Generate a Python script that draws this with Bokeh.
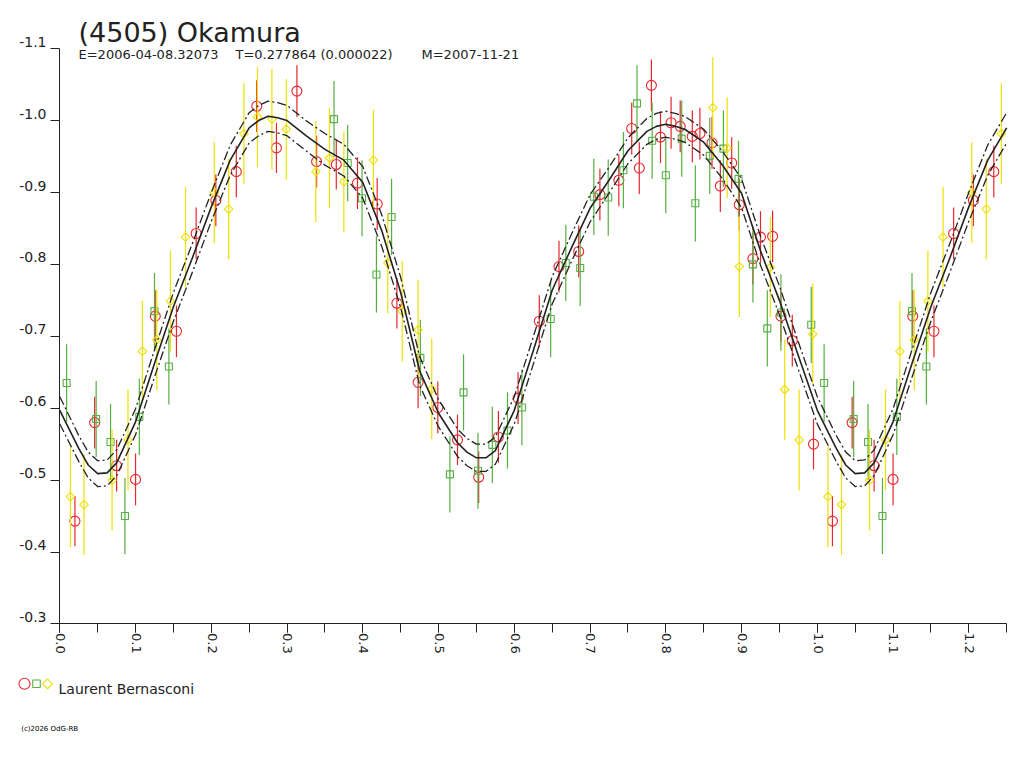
import math
from bokeh.plotting import figure
from bokeh.models import Range1d, LinearAxis, FixedTicker, SingleIntervalTicker
from bokeh.core.properties import value
from bokeh.embed import file_html
from bokeh.resources import INLINE

# ---------------- texts ----------------
TITLE = "(4505) Okamura"
SUB_E = "E=2006-04-08.32073"
SUB_T = "T=0.277864 (0.000022)"
SUB_M = "M=2007-11-21"
OBSERVER = "Laurent Bernasconi"
FOOTER = "(c)2026 OdG-RB"

y_ticks = [-1.1, -1.0, -0.9, -0.8, -0.7, -0.6, -0.5, -0.4, -0.3]
y_tick_labels = ["-1.1", "-1.0", "-0.9", "-0.8", "-0.7", "-0.6", "-0.5", "-0.4", "-0.3"]
x_ticks = [0.0, 0.1, 0.2, 0.3, 0.4, 0.5, 0.6, 0.7, 0.8, 0.9, 1.0, 1.1, 1.2]
x_tick_labels = ["0.0", "0.1", "0.2", "0.3", "0.4", "0.5", "0.6", "0.7", "0.8", "0.9", "1.0", "1.1", "1.2"]

# ---------------- data (phase, reduced magnitude, error) ----------------
red_phase = [0.020, 0.046, 0.075, 0.100, 0.126, 0.154, 0.180, 0.206, 0.233, 0.260,
             0.286, 0.313, 0.339, 0.365, 0.393, 0.419, 0.445, 0.473, 0.499, 0.525,
             0.553, 0.579, 0.605, 0.633, 0.659, 0.685, 0.713, 0.738, 0.755, 0.765,
             0.781, 0.793, 0.807, 0.819, 0.835, 0.845, 0.861, 0.872, 0.887, 0.897,
             0.915, 0.925, 0.941, 0.952, 0.967, 0.995]
red_mag = [-0.443, -0.580, -0.520, -0.501, -0.728, -0.707, -0.843, -0.889, -0.929, -1.020,
           -0.962, -1.041, -0.943, -0.939, -0.913, -0.884, -0.746, -0.636, -0.601, -0.556,
           -0.504, -0.560, -0.614, -0.721, -0.797, -0.818, -0.897, -0.917, -0.989, -0.934,
           -1.049, -0.977, -0.997, -0.992, -0.978, -0.982, -0.969, -0.909, -0.941, -0.883,
           -0.808, -0.838, -0.839, -0.728, -0.694, -0.550]
red_err = [0.035, 0.036, 0.036, 0.036, 0.036, 0.036, 0.036, 0.036, 0.036, 0.036,
           0.035, 0.036, 0.036, 0.035, 0.036, 0.036, 0.035, 0.036, 0.036, 0.035,
           0.036, 0.036, 0.036, 0.036, 0.036, 0.036, 0.036, 0.036, 0.036, 0.036,
           0.036, 0.036, 0.036, 0.036, 0.036, 0.036, 0.036, 0.036, 0.036, 0.036,
           0.036, 0.036, 0.036, 0.036, 0.036, 0.035]

green_phase = [0.009, 0.048, 0.067, 0.086, 0.105, 0.125, 0.144, 0.362, 0.380, 0.399,
               0.418, 0.438, 0.476, 0.515, 0.533, 0.552, 0.571, 0.591, 0.610, 0.648,
               0.668, 0.687, 0.705, 0.724, 0.744, 0.762, 0.782, 0.800, 0.821, 0.839,
               0.858, 0.876, 0.896, 0.915, 0.934, 0.952, 0.992]
green_mag = [-0.635, -0.585, -0.553, -0.450, -0.588, -0.735, -0.658, -1.002, -0.941, -0.892,
             -0.786, -0.866, -0.670, -0.508, -0.622, -0.513, -0.549, -0.569, -0.601, -0.724,
             -0.802, -0.795, -0.894, -0.893, -0.931, -1.024, -0.972, -0.924, -0.975, -0.885,
             -0.951, -0.961, -0.919, -0.800, -0.711, -0.733, -0.716]
green_err = [0.054, 0.053, 0.053, 0.053, 0.053, 0.053, 0.053, 0.053, 0.053, 0.053,
             0.053, 0.053, 0.053, 0.053, 0.053, 0.053, 0.053, 0.053, 0.053, 0.053,
             0.053, 0.053, 0.053, 0.053, 0.053, 0.053, 0.053, 0.053, 0.053, 0.053,
             0.053, 0.053, 0.053, 0.053, 0.053, 0.053, 0.053]

yellow_phase = [0.014, 0.032, 0.069, 0.090, 0.109, 0.128, 0.146, 0.166, 0.204, 0.223,
                0.243, 0.261, 0.280, 0.299, 0.338, 0.356, 0.375, 0.414, 0.433, 0.452,
                0.473, 0.491, 0.862, 0.881, 0.897, 0.938, 0.957, 0.976, 0.994]
yellow_mag = [-0.477, -0.466, -0.500, -0.556, -0.679, -0.695, -0.749, -0.838, -0.900, -0.877,
              -0.982, -1.005, -1.002, -0.988, -0.929, -0.948, -0.915, -0.945, -0.802, -0.735,
              -0.709, -0.627, -1.018, -0.962, -0.797, -0.796, -0.626, -0.556, -0.703]
yellow_err = [0.070, 0.070, 0.070, 0.070, 0.070, 0.070, 0.070, 0.070, 0.070, 0.070,
              0.070, 0.070, 0.070, 0.070, 0.070, 0.070, 0.070, 0.070, 0.070, 0.070,
              0.070, 0.070, 0.070, 0.070, 0.070, 0.070, 0.070, 0.070, 0.070]

# Fourier fit (phase 0 .. 0.975) and its 1-sigma half width
fit_phase = [0.000, 0.025, 0.0375, 0.050, 0.0625, 0.075, 0.100, 0.125, 0.150, 0.175,
             0.200, 0.225, 0.250, 0.2625, 0.275, 0.2875, 0.300, 0.325, 0.350, 0.375,
             0.400, 0.425, 0.450, 0.475, 0.500, 0.525, 0.5375, 0.550, 0.5625, 0.575,
             0.600, 0.625, 0.650, 0.675, 0.700, 0.725, 0.750, 0.775, 0.7875, 0.800,
             0.8125, 0.825, 0.850, 0.875, 0.900, 0.925, 0.950, 0.975]
fit_mag = [-0.597, -0.544, -0.521, -0.509, -0.510, -0.524, -0.581, -0.662, -0.741, -0.809,
           -0.880, -0.945, -0.990, -1.000, -1.006, -1.004, -1.000, -0.979, -0.960, -0.945,
           -0.914, -0.847, -0.761, -0.652, -0.593, -0.552, -0.539, -0.531, -0.531, -0.541,
           -0.597, -0.680, -0.764, -0.822, -0.878, -0.917, -0.958, -0.985, -0.992, -0.995,
           -0.992, -0.988, -0.970, -0.938, -0.899, -0.819, -0.750, -0.673]
fit_sigma = [0.019, 0.018, 0.018, 0.018, 0.018, 0.018, 0.018, 0.019, 0.020, 0.020,
             0.020, 0.021, 0.021, 0.021, 0.021, 0.021, 0.021, 0.021, 0.022, 0.022,
             0.022, 0.022, 0.021, 0.020, 0.019, 0.019, 0.019, 0.019, 0.019, 0.019,
             0.019, 0.019, 0.019, 0.019, 0.019, 0.018, 0.018, 0.018, 0.018, 0.018,
             0.018, 0.018, 0.018, 0.019, 0.020, 0.020, 0.020, 0.019]

# ---------------- layout / style ----------------
W, H = 1016, 752
X0_PX, SX = 59.3, 757.5      # page x of phase 0, pixels per phase unit
Y0_PX, SY = 48.2, 719.0      # page y of the top of the magnitude axis, pixels per mag
MAG_TOP, MAG_BOTTOM = -1.1, -0.3
PHASE_MAX = 1.25

FONT = "DejaVu Sans"
INK = "#222222"
RED = "#e8262d"
GREEN = "#54b040"
YELLOW = "#f0e000"


def ph_at(px):
    return (px - X0_PX) / SX


def mag_at(py):
    return MAG_TOP + (py - Y0_PX) / SY


def wrap(phase, *cols):
    """Repeat the start of the phase curve after phase 1 (as the reference does)."""
    ph = list(phase)
    out = [list(c) for c in cols]
    for i, f in enumerate(phase):
        if f + 1.0 <= PHASE_MAX + 1e-9:
            ph.append(round(f + 1.0, 4))
            for o, c in zip(out, cols):
                o.append(c[i])
    return ph, out


p = figure(width=W, height=H, output_backend="svg", toolbar_location=None, title=None,
           x_range=Range1d(ph_at(0), ph_at(W)), y_range=Range1d(mag_at(H), mag_at(0)),
           x_axis_type=None, y_axis_type=None, min_border=0,
           background_fill_color="white", border_fill_color="white")
p.outline_line_color = None

xaxis = LinearAxis(fixed_location=MAG_BOTTOM, bounds=(0, PHASE_MAX + 1e-6),
                   ticker=SingleIntervalTicker(interval=0.1, num_minor_ticks=2),
                   axis_line_color=INK, major_tick_line_color=INK, minor_tick_line_color=INK,
                   major_tick_in=0, major_tick_out=9, minor_tick_in=0, minor_tick_out=9,
                   major_label_text_color=None)
p.add_layout(xaxis, "below")
yaxis = LinearAxis(fixed_location=0, bounds=(MAG_TOP, MAG_BOTTOM),
                   ticker=FixedTicker(ticks=y_ticks),
                   axis_line_color=INK, major_tick_line_color=INK, minor_tick_line_color=None,
                   major_tick_in=0, major_tick_out=9, major_label_text_color=None)
p.add_layout(yaxis, "left")

# data: error bars + markers
series = [
    (red_phase, red_mag, red_err, RED, dict(marker="circle", size=10)),
    (green_phase, green_mag, green_err, GREEN, dict(marker="square", size=7)),
    (yellow_phase, yellow_mag, yellow_err, YELLOW, dict(marker="square", size=6, angle=math.pi / 4)),
]
for ph0, m0, e0, col, mk in series:
    ph, (m, e) = wrap(ph0, m0, e0)
    p.segment(x0=ph, y0=[a - b for a, b in zip(m, e)], x1=ph, y1=[a + b for a, b in zip(m, e)],
              line_color=col, line_width=1.2)
    p.scatter(ph, m, fill_color=None, line_color=col, line_width=1.1, **mk)

# fit curve and its band
fph, (fm, fs) = wrap(fit_phase, fit_mag, fit_sigma)
p.line(fph, [a - b for a, b in zip(fm, fs)], line_color=INK, line_width=1.3,
       line_dash="9 3 2 3", line_join="round")
p.line(fph, [a + b for a, b in zip(fm, fs)], line_color=INK, line_width=1.3,
       line_dash="9 3 2 3", line_join="round")
p.line(fph, fm, line_color=INK, line_width=1.6, line_join="round")


def txt(x, y, s, size, align="left", baseline="alphabetic", color=INK, angle=0.0, style="normal"):
    p.text(x=x, y=y, text=s, text_font=value(FONT), text_font_size=value(size),
           text_align=align, text_baseline=baseline, text_color=color, angle=angle,
           text_font_style=style)


# tick labels
txt([ph_at(46)] * len(y_ticks), [t - 7 / SY for t in y_ticks], y_tick_labels, "14px",
    align="right", baseline="middle")
txt([t + 0.8 / SX for t in x_ticks], [mag_at(632.5)] * len(x_ticks), x_tick_labels, "13px",
    angle=-math.pi / 2)

# title block
txt([ph_at(78)], [mag_at(31.5)], [TITLE], "27px")
txt([ph_at(78), ph_at(235), ph_at(421)], [mag_at(54)] * 3, [SUB_E, SUB_T, SUB_M], "13px")

# legend
p.scatter([ph_at(24)], [mag_at(683.3)], marker="circle", size=11, fill_color=None,
          line_color=RED, line_width=1.1)
p.scatter([ph_at(36)], [mag_at(683.3)], marker="square", size=7.5, fill_color=None,
          line_color=GREEN, line_width=1.1)
p.scatter([ph_at(47)], [mag_at(683.3)], marker="square", size=7, angle=math.pi / 4,
          fill_color=None, line_color=YELLOW, line_width=1.1)
txt([ph_at(58)], [mag_at(688)], [OBSERVER], "14px")
txt([ph_at(20.7)], [mag_at(728)], [FOOTER], "7px", color="#000000")

open("out.html", "w").write(file_html(p, INLINE))
